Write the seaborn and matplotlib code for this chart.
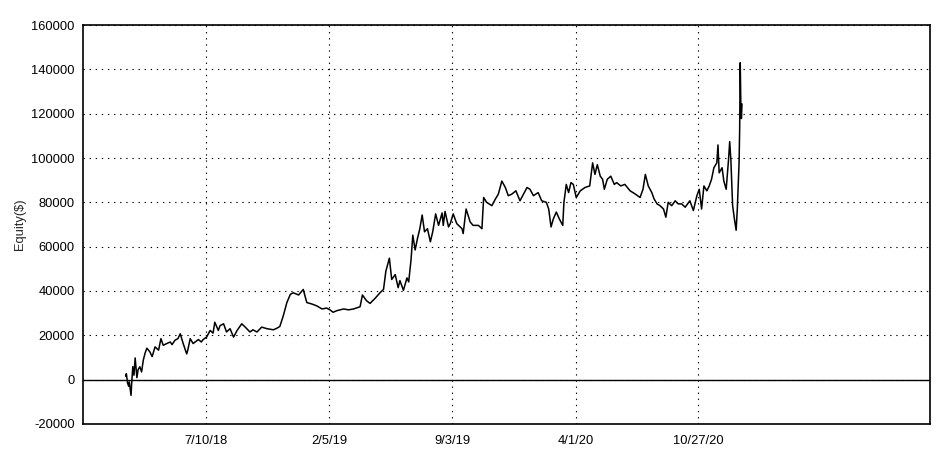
"""
Equity curve chart (Equity($) vs date), seaborn line plot.
Saves out.png
"""

import matplotlib
matplotlib.use("Agg")
import matplotlib.pyplot as plt
import matplotlib.dates as mdates
import seaborn as sns
import pandas as pd
from matplotlib.ticker import MultipleLocator

# Data: days after the first trade (2018-02-23) and equity values
START_DATE = "2018-02-23"
days = [
    0, 1, 3, 5, 6, 9, 10, 12, 14, 16,
    19, 21, 24, 27, 30, 33, 36, 41, 45, 50,
    56, 60, 64, 70, 76, 79, 84, 89, 93, 95,
    98, 104, 106, 110, 115, 120, 124, 129, 132, 138,
    144, 149, 152, 158, 161, 167, 172, 178, 184, 190,
    198, 204, 212, 217, 224, 232, 241, 252, 258, 263,
    269, 275, 281, 286, 295, 303, 309, 318, 326, 335,
    343, 349, 354, 360, 372, 380, 389, 400, 404, 411,
    417, 426, 434, 440, 444, 450, 454, 460, 465, 468,
    474, 480, 483, 487, 490, 494, 498, 502, 506, 510,
    515, 520, 524, 529, 534, 540, 542, 545, 551, 554,
    559, 565, 574, 576, 581, 588, 593, 602, 608, 611,
    616, 625, 631, 636, 642, 648, 653, 659, 666, 673,
    679, 685, 690, 696, 704, 710, 718, 722, 726, 730,
    735, 740, 746, 748, 752, 756, 760, 764, 769, 776,
    784, 792, 797, 801, 805, 810, 814, 817, 822, 828,
    834, 838, 845, 852, 861, 870, 878, 883, 887, 892,
    898, 902, 907, 912, 918, 922, 926, 932, 938, 943,
    949, 955, 963, 969, 975, 979, 983, 987, 992, 996,
    1000, 1004, 1009, 1011, 1013, 1018, 1021, 1025, 1029, 1031,
    1033, 1036, 1039, 1042, 1044, 1047, 1048, 1049, 1050, 1051,
    1052,
]
equity = [
    1500, 2700, -1500, -3000, -1000, -7100, -2000, 5900, 2000, 9800,
    900, 4500, 5800, 3500, 8900, 12000, 14200, 12600, 10400, 14800,
    13300, 18500, 15500, 16300, 17000, 15800, 17800, 18500, 20700, 19000,
    16300, 11600, 13500, 18500, 16300, 17300, 18100, 17000, 18100, 19200,
    22200, 21000, 25900, 22200, 24400, 25200, 21500, 23000, 19200, 22200,
    25200, 23700, 21500, 22500, 21500, 23700, 23000, 22500, 23200, 24000,
    28900, 34800, 38500, 39200, 38200, 40700, 34800, 34100, 33300, 31900,
    32300, 31400, 30400, 31100, 31900, 31500, 31900, 32900, 38200, 35600,
    34400, 36800, 39200, 40700, 48900, 54800, 45200, 47400, 41500, 44700,
    40300, 45900, 44100, 54100, 65200, 58500, 63700, 68100, 74300, 66700,
    68100, 62200, 66700, 74800, 69600, 75200, 69600, 75900, 68900, 70400,
    74800, 70400, 68100, 65900, 77000, 71100, 69600, 69600, 68100, 82200,
    80000, 78500, 81500, 83700, 89600, 86700, 83000, 83700, 85200, 80700,
    83700, 86700, 85900, 83000, 84400, 80700, 80000, 77000, 68900, 72600,
    75600, 72600, 69600, 80000, 88100, 84400, 88900, 88100, 82200, 85200,
    86700, 87400, 97800, 92600, 97000, 91800, 90400, 85900, 90400, 91800,
    88100, 88900, 87400, 88100, 85200, 83700, 82200, 85900, 92600, 87400,
    84400, 81500, 79300, 78500, 77000, 73300, 80000, 78500, 80700, 79300,
    79300, 77800, 80700, 76300, 83000, 85900, 77000, 87400, 85200, 87400,
    90400, 95600, 97800, 105900, 93300, 95600, 89600, 85900, 99200, 107400,
    99200, 78500, 72600, 67400, 77000, 97800, 112600, 143000, 124400, 117800,
    124400,
]

tick_dates = ["2018-07-10", "2019-02-05", "2019-09-03", "2020-04-01", "2020-10-27"]
tick_labels = ["7/10/18", "2/5/19", "9/3/19", "4/1/20", "10/27/20"]
x_range = ["2017-12-12", "2021-11-27"]
y_range = [-20000, 160000]

# Style
sns.set_style("white")
plt.rcParams["font.family"] = ["Liberation Sans", "DejaVu Sans"]
plt.rcParams["font.size"] = 9.3


def main():
    df = pd.DataFrame({
        "date": pd.Timestamp(START_DATE) + pd.to_timedelta(days, unit="D"),
        "equity": equity,
    })

    fig = plt.figure(figsize=(9.38, 4.54), dpi=100)
    ax = fig.add_axes([0.0885, 0.0661, 0.9030, 0.8788])

    sns.lineplot(data=df, x="date", y="equity", color="black", linewidth=1.1,
                 estimator=None, sort=False, ax=ax)
    ax.axhline(0, color="black", linewidth=1.0)

    ax.set_xlim(pd.Timestamp(x_range[0]), pd.Timestamp(x_range[1]))
    ax.set_ylim(*y_range)

    ax.set_xticks([mdates.date2num(pd.Timestamp(d)) for d in tick_dates])
    ax.set_xticklabels(tick_labels)
    ax.yaxis.set_major_locator(MultipleLocator(20000))
    ax.yaxis.set_minor_locator(MultipleLocator(10000))
    ax.yaxis.set_major_formatter(matplotlib.ticker.FuncFormatter(lambda v, p: f"{int(v)}"))

    ax.tick_params(axis="x", length=0, pad=8, colors="black")
    ax.tick_params(axis="y", which="major", direction="out", length=4, width=1, colors="black", pad=2)
    ax.tick_params(axis="y", which="minor", direction="inout", length=6, width=1, colors="black")

    ax.grid(True, which="major", color="black", linestyle=(0, (1.2, 4.3)), linewidth=0.8)

    for sp in ax.spines.values():
        sp.set_color("black")
        sp.set_linewidth(1.2)

    ax.set_xlabel("")
    ax.set_ylabel("Equity($)", labelpad=4)

    fig.savefig("out.png", dpi=100)
    plt.close(fig)


if __name__ == "__main__":
    main()
